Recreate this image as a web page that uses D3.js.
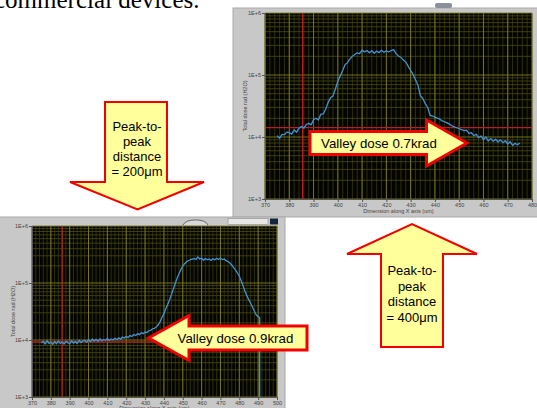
<!DOCTYPE html>
<html>
<head>
<meta charset="utf-8">
<script src="https://cdn.jsdelivr.net/npm/d3@7"></script>
<style>
  html, body { margin: 0; padding: 0; background: #fff; overflow: hidden; }
  svg { display: block; }
</style>
</head>
<body>
<svg id="slide" width="537" height="408"></svg>
<script>
// ---- Dose profiles across the X axis (rad H2O), one sample per micrometre ----
const narrowStart = 375;            // first sample position, µm
const narrowDose = [
  10500, 9500, 11000, 10900, 12000, 11800, 11100, 13000, 11900, 13900,
  14800, 13900, 15900, 16600, 15700, 19000, 20100, 18800, 23300, 23600,
  28000, 36200, 42800, 46000, 59500, 79500, 96800, 118000, 148000, 158000,
  182000, 201000, 214000, 228000, 222000, 252000, 236000, 248000, 228000, 246000,
  224000, 243000, 230000, 250000, 233000, 245000, 235000, 248000, 256000, 221000,
  203000, 192000, 174000, 162000, 138000, 118000, 102000, 84000, 68500, 46200,
  41800, 34600, 30200, 22400, 21800, 20900, 20100, 19400, 18200, 17600,
  16900, 16100, 15200, 14600, 14100, 13700, 13100, 12700, 12900, 11400,
  11800, 10500, 11100, 9700, 10400, 9100, 10000, 8600, 9500, 8500,
  9200, 8300, 9000, 8100, 8700, 7700, 8400, 7300, 7900, 7500,
  8000
];

const wideStart = 375;
const wideDose = [
  8900, 9500, 8500, 9800, 8700, 9200, 8400, 9400, 8600, 9600,
  8700, 9300, 8500, 9500, 9000, 8600, 9700, 8800, 9400, 8700,
  9900, 9000, 9600, 9900, 9100, 10300, 9300, 10400, 9600, 10300,
  9500, 10500, 9700, 10200, 9900, 10600, 9800, 10400, 10000, 10700,
  10100, 10900, 10300, 11300, 10800, 11600, 11000, 12000, 11500, 12500,
  12000, 12900, 12400, 13400, 12900, 13800, 13500, 14600, 14800, 15700,
  16000, 17000, 18500, 21000, 25000, 29000, 35200, 42000, 51000, 63000,
  79000, 98000, 121000, 145000, 172000, 198000, 218000, 236000, 248000, 256000,
  262000, 268000, 258000, 287000, 264000, 273000, 251000, 268000, 256000, 262000,
  249000, 266000, 255000, 271000, 258000, 276000, 257000, 263000, 246000, 238000,
  224000, 207000, 186000, 168000, 150000, 132000, 108000, 89000, 72000, 60000,
  51000, 44000, 38000, 32000, 27500, 25500
];
// detector edge: signal collapses right after the last sample
const wideTail = [[490.8, 25000], [490.8, 500]];

const narrowTicks = [370, 380, 390, 400, 410, 420, 430, 440, 450, 460, 470, 480];
const wideTicks = [370, 380, 390, 400, 410, 420, 430, 440, 450, 460, 470, 480, 490, 500];
const doseTicks = [1e3, 1e4, 1e5, 1e6];
const doseTickLabels = ["1E+3", "1E+4", "1E+5", "1E+6"];

// cursor positions: [x in µm, dose in rad]
const narrowCursor = [385.5, 14200];
const wideCursor = [386, 9300];

const yTitle = "Total dose rad (H2O)";
const xTitle = "Dimension along X axis (um)";

const pitchLabels200 = ["Peak-to-", "peak", "distance", "= 200\u03bcm"];
const pitchLabels400 = ["Peak-to-", "peak", "distance", "= 400\u03bcm"];
const valleyLabel07 = "Valley dose 0.7krad";
const valleyLabel09 = "Valley dose 0.9krad";

// ---------------------------------------------------------------------------
const svg = d3.select("#slide");
const defs = svg.append("defs");

// heading text running off the top of the slide
svg.append("text")
  .attr("x", -6).attr("y", 7.5)
  .attr("font-family", "Liberation Serif, Times New Roman, serif")
  .attr("font-size", 25)
  .attr("fill", "#000")
  .text("commercial devices.");

function drawChart(id, o) {
  const g = svg.append("g");
  // instrument panel
  g.append("rect")
    .attr("x", o.panel[0]).attr("y", o.panel[1])
    .attr("width", o.panel[2]).attr("height", o.panel[3])
    .attr("fill", "#c8c8c8").attr("stroke", "#a9a9a9").attr("stroke-width", 1);

  const x = d3.scaleLinear().domain(o.xDomain).range([o.left, o.right]);
  const y = d3.scaleLog().domain([1e3, 1e6]).range([o.bottom, o.top]);

  g.append("rect")
    .attr("x", o.left).attr("y", o.top)
    .attr("width", o.right - o.left).attr("height", o.bottom - o.top)
    .attr("fill", "#050500");

  // minor grid
  const xMinor = d3.range(o.xDomain[0], o.xDomain[1] + 0.01, 2);
  const yMinor = [];
  [1e3, 1e4, 1e5].forEach(d => { for (let m = 2; m <= 9; m++) yMinor.push(m * d); });
  g.append("g").selectAll("line").data(xMinor).join("line")
    .attr("x1", d => x(d)).attr("x2", d => x(d))
    .attr("y1", o.top).attr("y2", o.bottom)
    .attr("stroke", "#3a3a0c").attr("stroke-width", 0.8);
  g.append("g").selectAll("line").data(yMinor).join("line")
    .attr("x1", o.left).attr("x2", o.right)
    .attr("y1", d => y(d)).attr("y2", d => y(d))
    .attr("stroke", "#4a4a10").attr("stroke-width", 0.8);
  // major grid
  g.append("g").selectAll("line").data(o.xTicks).join("line")
    .attr("x1", d => x(d)).attr("x2", d => x(d))
    .attr("y1", o.top).attr("y2", o.bottom)
    .attr("stroke", "#7e7e20").attr("stroke-width", 0.9);
  g.append("g").selectAll("line").data(doseTicks).join("line")
    .attr("x1", o.left).attr("x2", o.right)
    .attr("y1", d => y(d)).attr("y2", d => y(d))
    .attr("stroke", "#7e7e20").attr("stroke-width", 0.9);

  // axes
  const xAxis = d3.axisBottom(x).tickValues(o.xTicks).tickSize(3).tickPadding(1)
    .tickFormat(d3.format("d"));
  const yAxis = d3.axisLeft(y).tickValues(doseTicks).tickSize(3).tickPadding(1)
    .tickFormat((d, i) => doseTickLabels[i]);
  const ax = g.append("g").attr("transform", `translate(0,${o.bottom})`).call(xAxis);
  const ay = g.append("g").attr("transform", `translate(${o.left},0)`).call(yAxis);
  [ax, ay].forEach(a => {
    a.select(".domain").attr("stroke", "#555");
    a.selectAll(".tick line").attr("stroke", "#555");
    a.selectAll("text").attr("fill", "#444")
      .attr("font-family", "Liberation Sans, Arial, sans-serif").attr("font-size", 5.5);
  });

  g.append("text")
    .attr("transform", `translate(${o.yTitleX},${(o.top + o.bottom) / 2}) rotate(-90)`)
    .attr("text-anchor", "middle")
    .attr("font-family", "Liberation Sans, Arial, sans-serif").attr("font-size", 5.5)
    .attr("fill", "#444").text(yTitle);
  g.append("text")
    .attr("x", (o.left + o.right) / 2).attr("y", o.xTitleY)
    .attr("text-anchor", "middle")
    .attr("font-family", "Liberation Sans, Arial, sans-serif").attr("font-size", 5.5)
    .attr("fill", "#444").text(xTitle);

  // plotted data, clipped to the graph area
  defs.append("clipPath").attr("id", id)
    .append("rect").attr("x", o.left).attr("y", o.top)
    .attr("width", o.right - o.left).attr("height", o.bottom - o.top);
  const plot = g.append("g").attr("clip-path", `url(#${id})`);

  plot.append("line")
    .attr("x1", x(o.cursor[0])).attr("x2", x(o.cursor[0]))
    .attr("y1", o.top).attr("y2", o.bottom)
    .attr("stroke", "#b91d1d").attr("stroke-width", 1.3);
  plot.append("line")
    .attr("x1", o.left).attr("x2", o.right)
    .attr("y1", y(o.cursor[1])).attr("y2", y(o.cursor[1]))
    .attr("stroke", "#b91d1d").attr("stroke-width", 1.3);

  const pts = o.dose.map((v, i) => [o.start + i, v]).concat(o.tail || []);
  plot.append("path")
    .datum(pts)
    .attr("fill", "none")
    .attr("stroke", "#3f93dd").attr("stroke-width", 1.3)
    .attr("stroke-linejoin", "round")
    .attr("d", d3.line().x(d => x(d[0])).y(d => y(d[1])));
  return g;
}

// upper graph: 400 µm pitch
drawChart("clipNarrow", {
  panel: [233, 8, 310, 209],
  left: 265, right: 532, top: 13, bottom: 199,
  xDomain: [370, 480], xTicks: narrowTicks,
  dose: narrowDose, start: narrowStart,
  cursor: narrowCursor, yTitleX: 247, xTitleY: 213
});
// control fragment above the upper panel
svg.append("rect").attr("x", 435).attr("y", 3).attr("width", 17).attr("height", 5)
  .attr("rx", 2).attr("fill", "#8a8f9c");

// lower graph: 200 µm pitch
const lower = drawChart("clipWide", {
  panel: [-2, 217, 287, 195],
  left: 32, right: 277, top: 226, bottom: 397,
  xDomain: [370, 500], xTicks: wideTicks,
  dose: wideDose, start: wideStart, tail: wideTail,
  cursor: wideCursor, yTitleX: 15, xTitleY: 410
});
// toolbar controls along the top of the lower panel
lower.append("path").attr("d", "M183,225 A13,7 0 0 1 208,225")
  .attr("fill", "#d8d8d8").attr("stroke", "#666").attr("stroke-width", 1);
lower.append("rect").attr("x", 228).attr("y", 218.5).attr("width", 40).attr("height", 6)
  .attr("fill", "#e6e6e6").attr("stroke", "#8c8c8c").attr("stroke-width", 0.6);
lower.append("rect").attr("x", 270).attr("y", 218.5).attr("width", 8).attr("height", 6)
  .attr("fill", "#15253a");

// ---- call-out arrows ----
const arrowFill = "#ffff9c", arrowEdge = "#f20000";
function arrow(points, width) {
  svg.append("path")
    .attr("d", d3.line()(points) + "Z")
    .attr("fill", arrowFill).attr("stroke", arrowEdge)
    .attr("stroke-width", width).attr("stroke-linejoin", "miter");
}
function lines(labels, cx, y0, step) {
  svg.append("g").selectAll("text").data(labels).join("text")
    .attr("x", cx).attr("y", (d, i) => y0 + i * step)
    .attr("text-anchor", "middle")
    .attr("font-family", "Liberation Sans, Arial, sans-serif").attr("font-size", 13)
    .attr("fill", "#000").text(d => d);
}

// down arrow toward the lower graph
arrow([[105, 102], [167, 102], [167, 182], [204, 182], [137.5, 209.5], [70, 182], [105, 182]], 2);
lines(pitchLabels200, 137, 131, 15);

// up arrow toward the upper graph
arrow([[381, 347], [443, 347], [443, 254], [477, 254], [412, 224], [347, 254], [381, 254]], 2);
lines(pitchLabels400, 412, 275, 15.5);

// valley call-outs
arrow([[310, 131.5], [426.5, 131.5], [426.5, 120], [467, 143], [426.5, 166], [426.5, 154.5], [310, 154.5]], 3);
svg.append("text").attr("x", 321).attr("y", 148)
  .attr("font-family", "Liberation Sans, Arial, sans-serif").attr("font-size", 13.3)
  .attr("fill", "#000").text(valleyLabel07);

arrow([[307, 326], [189, 326], [189, 315.5], [148.5, 338], [189, 360.5], [189, 350], [307, 350]], 3);
svg.append("text").attr("x", 177.5).attr("y", 343)
  .attr("font-family", "Liberation Sans, Arial, sans-serif").attr("font-size", 13.3)
  .attr("fill", "#000").text(valleyLabel09);
</script>
</body>
</html>
